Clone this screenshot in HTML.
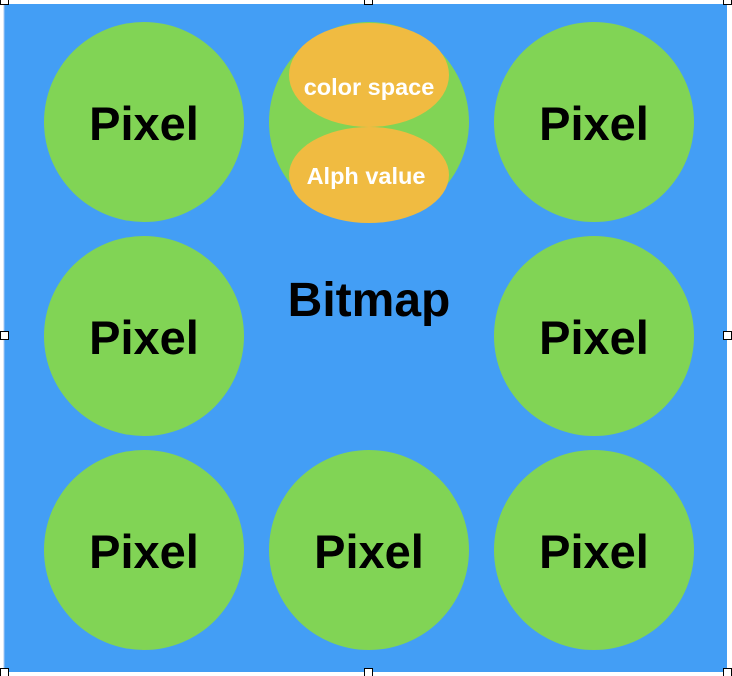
<!DOCTYPE html>
<html><head><meta charset="utf-8"><style>
html,body{margin:0;padding:0;background:#fff;}
svg{display:block;}
text{font-family:"Liberation Sans",Arial,sans-serif;font-weight:bold;}
</style></head><body>
<svg width="732" height="676" viewBox="0 0 732 676">
  <rect x="4" y="4" width="723" height="668" fill="#439ef5"/>
  <line x1="4" y1="4" x2="4" y2="672" stroke="#a9c8f0" stroke-width="1"/>
  <g><circle cx="144" cy="122" r="100" fill="#81d455"/><text x="144" y="140" font-size="47" text-anchor="middle">Pixel</text></g>
  <g><circle cx="369" cy="122" r="100" fill="#81d455"/>
    <ellipse cx="369" cy="75" rx="80" ry="52" fill="#f0bb41"/>
    <ellipse cx="369" cy="175" rx="80" ry="48" fill="#f0bb41"/>
    <text x="369" y="95" font-size="23.5" fill="#fff" text-anchor="middle">color space</text>
    <text x="366" y="184" font-size="23.5" fill="#fff" text-anchor="middle">Alph value</text>
  </g>
  <g><circle cx="594" cy="122" r="100" fill="#81d455"/><text x="594" y="140" font-size="47" text-anchor="middle">Pixel</text></g>
  <g><circle cx="144" cy="336" r="100" fill="#81d455"/><text x="144" y="354" font-size="47" text-anchor="middle">Pixel</text></g>
  <text x="369" y="316" font-size="48" text-anchor="middle" fill="#000">Bitmap</text>
  <g><circle cx="594" cy="336" r="100" fill="#81d455"/><text x="594" y="354" font-size="47" text-anchor="middle">Pixel</text></g>
  <g><circle cx="144" cy="550" r="100" fill="#81d455"/><text x="144" y="568" font-size="47" text-anchor="middle">Pixel</text></g>
  <g><circle cx="369" cy="550" r="100" fill="#81d455"/><text x="369" y="568" font-size="47" text-anchor="middle">Pixel</text></g>
  <g><circle cx="594" cy="550" r="100" fill="#81d455"/><text x="594" y="568" font-size="47" text-anchor="middle">Pixel</text></g>
  <g fill="#fff" stroke="#000" stroke-width="1">
    <rect x="0.5" y="-3.5" width="8" height="8"/>
    <rect x="364.5" y="-3.5" width="8" height="8"/>
    <rect x="723.5" y="-3.5" width="8" height="8"/>
    <rect x="0.5" y="331.5" width="8" height="8"/>
    <rect x="723.5" y="331.5" width="8" height="8"/>
    <rect x="0.5" y="668.5" width="8" height="8"/>
    <rect x="364.5" y="668.5" width="8" height="8"/>
    <rect x="723.5" y="668.5" width="8" height="8"/>
  </g>
</svg>
</body></html>
